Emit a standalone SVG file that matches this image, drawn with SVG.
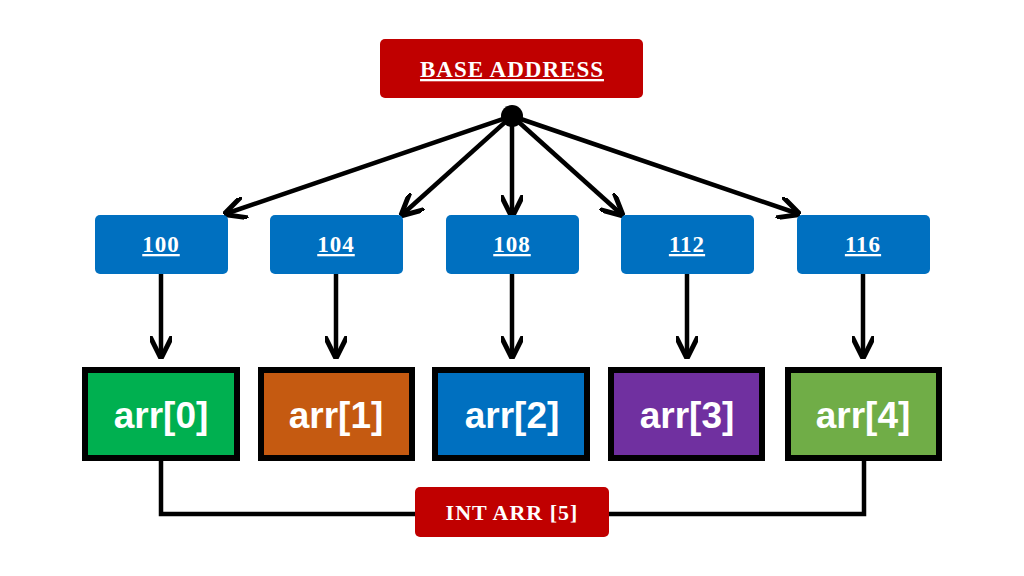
<svg xmlns="http://www.w3.org/2000/svg" width="1024" height="576" viewBox="0 0 1024 576">
<style>
.lbl{font-family:"Liberation Serif",serif;font-weight:bold;fill:#fff;text-decoration:underline;text-anchor:middle;letter-spacing:1px}
.arr{font-family:"Liberation Sans",sans-serif;font-weight:bold;fill:#fff;font-size:37px;text-anchor:middle}
.ln{stroke:#000;stroke-width:4.5;fill:none}
.addr{fill:#0070c0}
.cell{stroke:#000;stroke-width:6}
</style>
<defs><marker id="ah" viewBox="0 0 10 10" refX="8" refY="5" markerWidth="5" markerHeight="5" orient="auto"><path d="M0,0 L10,5 L0,10" fill="none" stroke="#000" stroke-width="2.2"/></marker></defs>
<rect width="1024" height="576" fill="#fff"/>
<g id="connectors">
<line class="ln" x1="512" y1="116" x2="228" y2="213" marker-end="url(#ah)"/>
<line class="ln" x1="512" y1="116" x2="404" y2="213" marker-end="url(#ah)"/>
<line class="ln" x1="512" y1="116" x2="512" y2="213" marker-end="url(#ah)"/>
<line class="ln" x1="512" y1="116" x2="620" y2="213" marker-end="url(#ah)"/>
<line class="ln" x1="512" y1="116" x2="796" y2="213" marker-end="url(#ah)"/>
<line class="ln" x1="161" y1="274" x2="161" y2="354" marker-end="url(#ah)"/>
<line class="ln" x1="336" y1="274" x2="336" y2="354" marker-end="url(#ah)"/>
<line class="ln" x1="512" y1="274" x2="512" y2="354" marker-end="url(#ah)"/>
<line class="ln" x1="687" y1="274" x2="687" y2="354" marker-end="url(#ah)"/>
<line class="ln" x1="863" y1="274" x2="863" y2="354" marker-end="url(#ah)"/>
<polyline class="ln" points="161,461 161,514 864,514 864,461"/>
<circle cx="512" cy="116" r="11" fill="#000"/>
</g>
<g id="base"><rect x="380" y="39" width="263" height="59" rx="5" fill="#c00000"/><text class="lbl" x="512" y="77" font-size="23">BASE ADDRESS</text></g>
<g id="a100"><rect class="addr" x="95" y="215" width="133" height="59" rx="5"/><text class="lbl" x="161" y="252" font-size="23">100</text></g>
<g id="a104"><rect class="addr" x="270" y="215" width="133" height="59" rx="5"/><text class="lbl" x="336" y="252" font-size="23">104</text></g>
<g id="a108"><rect class="addr" x="446" y="215" width="133" height="59" rx="5"/><text class="lbl" x="512" y="252" font-size="23">108</text></g>
<g id="a112"><rect class="addr" x="621" y="215" width="133" height="59" rx="5"/><text class="lbl" x="687" y="252" font-size="23">112</text></g>
<g id="a116"><rect class="addr" x="797" y="215" width="133" height="59" rx="5"/><text class="lbl" x="863" y="252" font-size="23">116</text></g>
<g id="c0"><rect class="cell" x="85" y="370" width="152" height="88" fill="#00b050"/><text class="arr" x="161" y="428">arr[0]</text></g>
<g id="c1"><rect class="cell" x="261" y="370" width="151" height="88" fill="#c55a11"/><text class="arr" x="336" y="428">arr[1]</text></g>
<g id="c2"><rect class="cell" x="435" y="370" width="152" height="88" fill="#0070c0"/><text class="arr" x="512" y="428">arr[2]</text></g>
<g id="c3"><rect class="cell" x="611" y="370" width="151" height="88" fill="#7030a0"/><text class="arr" x="687" y="428">arr[3]</text></g>
<g id="c4"><rect class="cell" x="788" y="370" width="151" height="88" fill="#70ad47"/><text class="arr" x="863" y="428">arr[4]</text></g>
<g id="intarr"><rect x="415" y="487" width="194" height="50" rx="5" fill="#c00000"/><text x="512" y="520" font-size="22" letter-spacing="1" font-family="Liberation Serif,serif" font-weight="bold" fill="#fff" text-anchor="middle">INT ARR [5]</text></g>
</svg>
